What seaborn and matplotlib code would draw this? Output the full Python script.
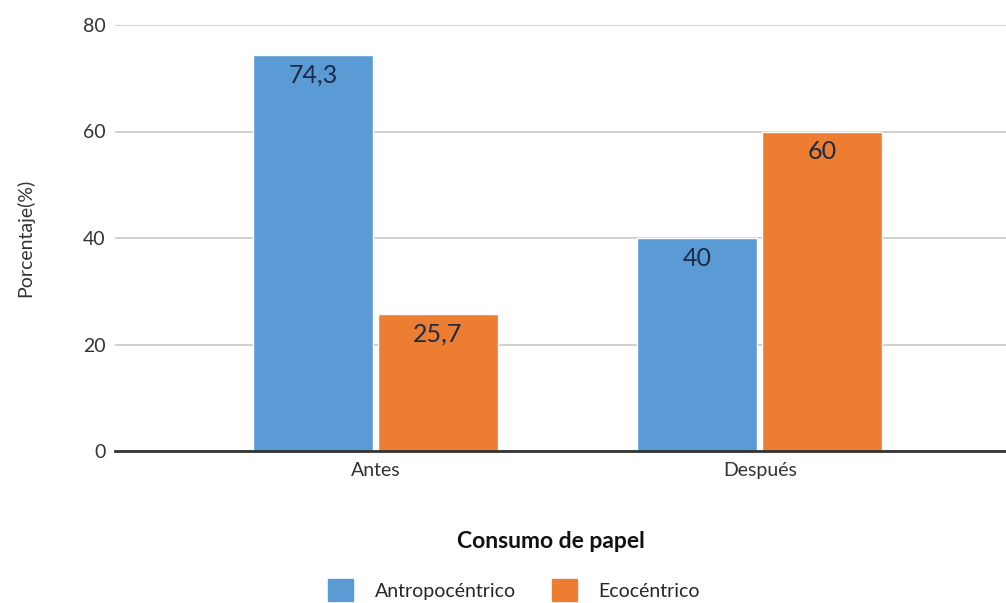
"""
Consumo de papel: antes y después (bar chart)
"""

import pandas as pd
import matplotlib.pyplot as plt
import seaborn as sns

# Data
periodos = ['Antes', 'Después']
grupos = ['Antropocéntrico', 'Ecocéntrico']
antropocentrico = [74.3, 40]
ecocentrico = [25.7, 60]
etiquetas = [['74,3', '40'], ['25,7', '60']]
yticks = [0, 20, 40, 60, 80]

colores = ['#5b9bd5', '#ed7d31']

sns.set_theme(style='white')
plt.rcParams['font.family'] = ['Lato', 'DejaVu Sans']

df = pd.DataFrame({
    'Periodo': periodos * 2,
    'Grupo': [grupos[0]] * 2 + [grupos[1]] * 2,
    'Valor': antropocentrico + ecocentrico,
})

fig = plt.figure(figsize=(10.06, 6.03), dpi=100)
ax = fig.add_axes([115 / 1006, 1 - 451 / 603, 1 - 115 / 1006, (451 - 25) / 603])

sns.barplot(
    data=df, x='Periodo', y='Valor', hue='Grupo', order=periodos,
    hue_order=grupos, palette=colores, width=0.65, gap=0.04,
    saturation=1, ax=ax, legend=False, errorbar=None,
)

# value labels inside top of bars
for cont, labs in zip(ax.containers, etiquetas):
    for bar, lab in zip(cont, labs):
        ax.text(
            bar.get_x() + bar.get_width() / 2, bar.get_height() - 1.6, lab,
            ha='center', va='top', fontsize=18, color='#1c2b45'
        )

ax.set_ylim(0, 80)
ax.set_xlim(-0.677, 1.64)
ax.set_yticks(yticks)
ax.yaxis.grid(True, color='#c8c8c8', linewidth=1.2)
ax.set_axisbelow(True)
for s in ['top', 'right', 'left']:
    ax.spines[s].set_visible(False)
ax.spines['bottom'].set_color('#333333')
ax.spines['bottom'].set_linewidth(2)
ax.tick_params(axis='both', length=0, labelsize=14, labelcolor='#333333')
ax.tick_params(axis='y', pad=7)
ax.tick_params(axis='x', pad=8)
ax.set_xlabel('')
ax.set_ylabel('')

fig.text(25 / 1006, 1 - 238 / 603, 'Porcentaje(%)', rotation=90,
         ha='center', va='center', fontsize=14, color='#333333')
fig.text(551 / 1006, 1 - 541 / 603, 'Consumo de papel', ha='center',
         va='center', fontsize=16.5, fontweight='bold', color='#111111')

handles = [plt.Rectangle((0, 0), 1, 1, color=c) for c in colores]
fig.legend(handles, grupos, loc='center', bbox_to_anchor=(514 / 1006, 1 - 590 / 603),
           ncol=2, frameon=False, fontsize=14, handlelength=1.3, handleheight=1.3,
           columnspacing=1.85, handletextpad=1.1, borderpad=0, borderaxespad=0)

fig.savefig('out.png', dpi=100)
